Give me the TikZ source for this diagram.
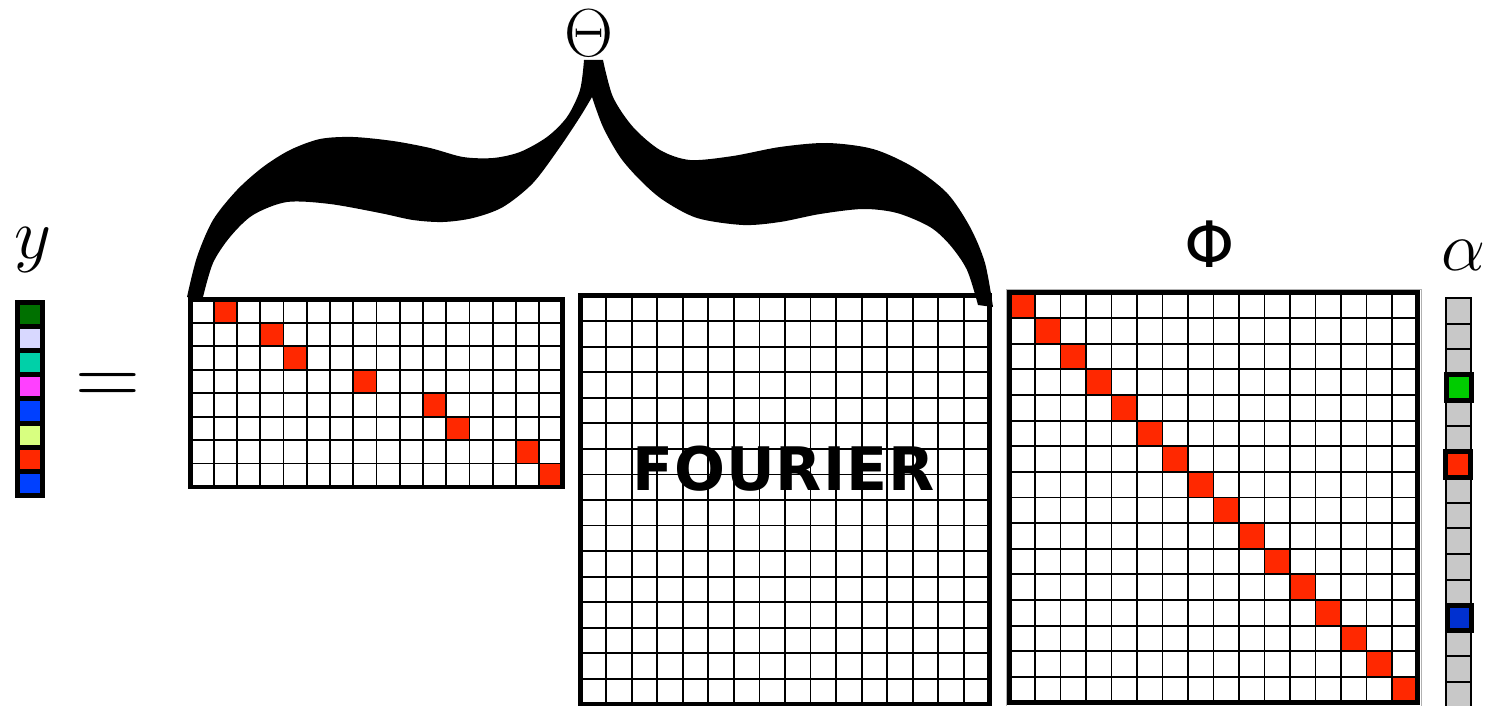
\RequirePackage{fix-cm}
\documentclass[tikz,border=0pt]{standalone}
\usepackage{fontspec}
\newfontfamily\dejavu{DejaVu Sans}
\usetikzlibrary{calc}

\definecolor{sigred}{RGB}{255,40,0}
\definecolor{ygreen}{RGB}{0,112,0}
\definecolor{ylav}{RGB}{216,216,255}
\definecolor{yteal}{RGB}{0,208,168}
\definecolor{ymag}{RGB}{255,64,255}
\definecolor{yblue}{RGB}{0,64,255}
\definecolor{ylime}{RGB}{216,255,128}
\definecolor{agray}{RGB}{200,200,200}
\definecolor{agreen}{RGB}{0,204,0}
\definecolor{ablue}{RGB}{0,48,208}

\begin{document}
\begin{tikzpicture}[
    x=1pt,y=-1pt,
    cellline/.style={line width=1.8pt},
    matborder/.style={line width=4.5pt},
    ycell/.style={draw, line width=5pt},
    acell/.style={draw, line width=2pt, fill=agray},
    apick/.style={draw, line width=5pt},
    mathlabel/.style={inner sep=0pt}
]

    % --- Canvas ---
    \useasboundingbox (0,0) rectangle (1496,706);

    % --- Labels ---
    \node[mathlabel] (ylab) at (32.5,249.5) {\fontsize{72}{72}\selectfont$y$};
    \node[mathlabel, anchor=base] (eq) at (108,405.5) {\fontsize{90}{90}\selectfont$=$};
    \node[mathlabel] (thetalab) at (589,33) {\fontsize{68}{68}\selectfont$\Theta$};
    \node[mathlabel] (philab) at (1210,244.5) {\dejavu\fontsize{64}{64}\selectfont Φ};
    \node[mathlabel] (alab) at (1464,255) {\fontsize{70}{70}\selectfont$\alpha$};

    % --- Measurement vector y ---
    \foreach \k/\col in {1/ygreen,2/ylav,3/yteal,4/ymag,5/yblue,6/ylime,7/sigred,8/yblue}
        \draw[ycell, fill=\col] (17.5,{302.5+(\k-1)*24.1}) rectangle ++(25,24.1);

    % --- Sampling matrix ---
    \begin{scope}[shift={(190.5,299.5)}, x=23.25pt, y=-23.44pt]
        \fill[white] (0,0) rectangle (16,8);
        \foreach \r/\c in {1/2,2/4,3/5,4/8,5/11,6/12,7/15,8/16}
            \fill[sigred] (\c-1,\r-1) rectangle (\c,\r);
        \foreach \i in {1,...,15} \draw[cellline] (\i,0) -- (\i,8);
        \foreach \j in {1,...,7} \draw[cellline] (0,\j) -- (16,\j);
        \draw[matborder] (0,0) rectangle (16,8);
    \end{scope}

    % --- Fourier matrix ---
    \begin{scope}[shift={(580.5,295.5)}, x=25.5625pt, y=-25.5625pt]
        \foreach \i in {1,...,15} \draw[cellline] (\i,0) -- (\i,16);
        \foreach \j in {1,...,15} \draw[cellline] (0,\j) -- (16,\j);
        \draw[matborder] (0,0) rectangle (16,16);
    \end{scope}
    \node[inner sep=0pt] (fourier) at (783.5,469)
        {\dejavu\bfseries\addfontfeature{LetterSpace=1.5}\fontsize{60}{60}\selectfont FOURIER};

    % --- Phi matrix ---
    \draw[black!30, line width=1pt] (1006,289) rectangle (1421,712);
    \begin{scope}[shift={(1009.5,292.5)}, x=25.5pt, y=-25.625pt]
        \fill[white] (0,0) rectangle (16,16);
        \foreach \k in {1,...,16}
            \fill[sigred] (\k-1,\k-1) rectangle (\k,\k);
        \foreach \i in {1,...,15} \draw[cellline] (\i,0) -- (\i,16);
        \foreach \j in {1,...,15} \draw[cellline] (0,\j) -- (16,\j);
        \draw[matborder] (0,0) rectangle (16,16);
    \end{scope}

    % --- Sparse vector alpha ---
    \foreach \k in {1,...,16}
        \draw[acell] (1446,{298+(\k-1)*25.6}) rectangle ++(25,25.6);
    \draw[apick, fill=agreen] (1446,{298+3*25.6}) rectangle ++(25,25.6);
    \draw[apick, fill=sigred] (1445,{298+6*25.6}) rectangle ++(25,25.6);
    \draw[apick, fill=ablue] (1447.5,{298+12*25.6}) rectangle ++(24,25.6);

    % --- Brace over the product ---
    \fill plot[smooth] coordinates {(584,60) (580,90) (567,117) (547,137) (520,152) (493,158)
            (463,157) (430,148) (393,141) (353,137) (320,139) (290,150) (263,167) (237,190)
            (213,220) (197,257) (187,297)}
        -- plot[smooth] coordinates {(203,297) (213,263) (230,237) (253,215) (287,202) (330,204)
            (380,213) (413,220) (443,222) (473,218) (503,207) (533,183) (560,147) (580,117) (592,97)}
        -- plot[smooth] coordinates {(592,97) (603,127) (620,157) (640,180) (663,200) (697,218)
            (743,225) (780,222) (820,214) (863,209) (897,213) (930,227) (950,245) (967,270) (978,305)}
        -- plot[smooth] coordinates {(993,307) (985,263) (970,227) (947,193) (913,167) (873,149)
            (827,143) (780,147) (733,156) (690,160) (660,150) (633,127) (613,97) (603,60)}
        -- cycle;

\end{tikzpicture}
\end{document}
